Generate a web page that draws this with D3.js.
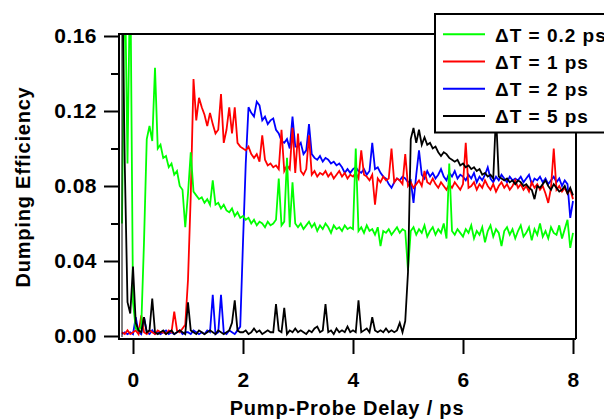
<!DOCTYPE html>
<html>
<head>
<meta charset="utf-8">
<script src="https://cdn.jsdelivr.net/npm/d3@7/dist/d3.min.js"></script>
<style>
  body { margin: 0; background: #fff; }
  text { font-family: "Liberation Sans", Arial, sans-serif; font-weight: bold; fill: #000; }
</style>
</head>
<body>
<div id="chart"></div>
<script>
// delay grid (ps), one sample every 0.05 ps from -0.2 to 8.0
var delayStart = -0.2, delayStep = 0.05, nPoints = 165;
var delay = d3.range(nPoints).map(function(i) { return +(delayStart + i * delayStep).toFixed(2); });

// dumping efficiency, in units of 0.001
var eff02 = [60, 200, 92, 200,
  18, 4, 3, 5, 50, 105, 112, 104, 143, 100, 102, 95, 96, 90, 92, 86, 88, 80, 78, 58,
  76, 98, 77, 75, 73, 74, 71, 73, 70, 83, 70, 71, 68, 70, 67, 66, 68, 64, 66, 63,
  64, 62, 63, 60, 62, 59, 61, 60, 58, 61, 59, 60, 62, 84, 59, 61, 95, 58, 82, 60,
  58, 60, 57, 59, 61, 58, 60, 56, 59, 57, 60, 58, 55, 59, 57, 58, 56, 59, 57, 58,
  57, 100, 56, 58, 55, 59, 56, 57, 54, 58, 48, 56, 55, 57, 54, 56, 58, 55, 57, 56,
  35, 56, 58, 54, 57, 55, 59, 53, 56, 58, 54, 57, 55, 60, 52, 92, 56, 54, 57, 55,
  53, 57, 55, 59, 52, 56, 54, 58, 50, 56, 59, 53, 57, 55, 48, 56, 58, 54, 57, 52,
  56, 59, 53, 55, 58, 51, 57, 54, 60, 53, 56, 52, 58, 55, 54, 59, 52, 57, 62, 47,
  55];

var eff1 = [2, 1, 3, 1,
  2, 3, 1, 11, 2, 1, 3, 2, 1, 3, 2, 2, 1, 3, 2, 13, 3, 2, 4, 6,
  30, 75, 137, 115, 127, 122, 118, 112, 119, 113, 108, 110, 129, 103, 110, 122, 108, 122, 103, 101,
  100, 99, 101, 97, 95, 97, 93, 107, 94, 91, 92, 90, 91, 89, 110, 88, 91, 89, 111, 87,
  108, 88, 86, 89, 107, 86, 88, 85, 87, 86, 88, 85, 87, 84, 86, 88, 85, 87, 84, 86,
  85, 87, 84, 99, 86, 85, 83, 86, 70, 84, 82, 85, 83, 84, 100, 82, 84, 83, 81, 97,
  80, 82, 79, 81, 83, 80, 88, 82, 81, 84, 81, 79, 82, 80, 78, 81, 79, 82, 80, 78,
  81, 103, 79, 80, 82, 78, 81, 79, 83, 80, 78, 81, 77, 80, 82, 79, 81, 78, 80, 83,
  79, 81, 78, 80, 77, 82, 79, 81, 78, 80, 76, 71, 79, 100, 78, 80, 77, 79, 76, 78,
  73];

var eff2 = [1, 2, 1, 2,
  1, 10, 2, 1, 10, 2, 1, 3, 1, 2, 1, 2, 3, 1, 2, 1, 2, 3, 1, 2,
  2, 1, 3, 2, 1, 2, 1, 3, 2, 22, 1, 2, 22, 2, 1, 3, 2, 1, 3, 5,
  50, 92, 122, 119, 117, 125, 123, 115, 117, 113, 115, 116, 110, 108, 104, 103, 105, 100, 117, 101,
  101, 103, 97, 99, 113, 97, 95, 94, 96, 93, 95, 94, 92, 93, 91, 92, 90, 87, 89, 87,
  89, 90, 88, 87, 89, 86, 88, 103, 89, 90, 87, 85, 84, 81, 79, 82, 84, 83, 85, 84,
  82, 83, 71, 86, 99, 86, 84, 88, 85, 87, 84, 86, 89, 85, 83, 87, 85, 88, 84, 86,
  85, 83, 86, 84, 87, 82, 85, 83, 86, 90, 84, 82, 85, 83, 86, 84, 82, 85, 83, 84,
  83, 85, 82, 84, 86, 81, 84, 83, 85, 82, 84, 81, 83, 85, 82, 84, 80, 83, 81, 63,
  72];

var eff5 = [200, 92, 18, 12,
  37, 7, 3, 2, 10, 2, 3, 20, 2, 1, 2, 3, 1, 2, 3, 1, 2, 3, 2, 1,
  18, 3, 2, 1, 3, 2, 1, 2, 3, 2, 1, 3, 2, 1, 2, 3, 7, 19, 3, 2,
  2, 3, 1, 2, 4, 2, 3, 1, 2, 3, 2, 2, 17, 3, 2, 15, 1, 3, 2, 4,
  2, 3, 2, 1, 3, 2, 4, 5, 2, 3, 17, 2, 3, 1, 4, 2, 3, 2, 5, 2,
  3, 2, 19, 2, 3, 4, 2, 10, 3, 2, 3, 2, 4, 2, 3, 2, 3, 7, 2, 8,
  34, 105, 111, 103, 110, 102, 106, 102, 103, 100, 101, 98, 96, 98, 97, 95, 94, 93, 94, 91,
  92, 90, 91, 89, 90, 88, 89, 86, 87, 85, 86, 84, 118, 85, 84, 83, 84, 82, 83, 81,
  83, 82, 80, 81, 79, 78, 73, 80, 79, 81, 83, 80, 78, 81, 79, 77, 78, 80, 76, 79,
  75];

var seriesNames = ["\u0394T = 0.2 ps", "\u0394T = 1 ps", "\u0394T = 2 ps", "\u0394T = 5 ps"];
var seriesColors = ["#00ff00", "#ff0000", "#0000ff", "#000000"];
var seriesValues = [eff02, eff1, eff2, eff5];

var yMajor = [0, 0.04, 0.08, 0.12, 0.16];
var yMinor = [0.02, 0.06, 0.10, 0.14];
var xMajor = [0, 2, 4, 6, 8];

(function() {
  var width = 604, height = 419;
  var plotLeft = 119, plotRight = 576, plotTop = 34, plotBottom = 339;

  var x = d3.scaleLinear().domain([0, 8]).range([133, 573]);
  var y = d3.scaleLinear().domain([0, 0.16]).range([336, 36]);

  var svg = d3.select("#chart").append("svg")
    .attr("width", width)
    .attr("height", height);

  svg.append("clipPath").attr("id", "plotclip")
    .append("rect")
    .attr("x", plotLeft + 1).attr("y", plotTop + 1)
    .attr("width", plotRight - plotLeft - 1).attr("height", plotBottom - plotTop - 2);

  var line = d3.line()
    .x(function(d) { return x(d[0]); })
    .y(function(d) { return y(d[1] / 1000); });

  // draw order: blue, red, green, black
  var order = [2, 1, 0, 3];
  var plot = svg.append("g").attr("clip-path", "url(#plotclip)");
  order.forEach(function(k) {
    var pts = delay.map(function(t, i) { return [t, seriesValues[k][i]]; });
    plot.append("path")
      .datum(pts)
      .attr("fill", "none")
      .attr("stroke", seriesColors[k])
      .attr("stroke-width", 1.8)
      .attr("d", line);
  });

  // frame
  svg.append("path")
    .attr("d", "M" + plotLeft + "," + plotTop + "H" + plotRight + "V" + plotBottom)
    .attr("fill", "none").attr("stroke", "#000").attr("stroke-width", 2);
  svg.append("line")
    .attr("x1", 122).attr("x2", 122).attr("y1", plotTop).attr("y2", plotBottom - 2)
    .attr("stroke", "#000").attr("stroke-width", 1);

  // y axis
  var yAxis = svg.append("g")
    .attr("transform", "translate(" + plotLeft + ",0)")
    .call(d3.axisLeft(y).tickValues(yMajor).tickFormat(d3.format(".2f")).tickSize(15).tickPadding(7));
  yAxis.select(".domain").remove();
  yAxis.selectAll("line").attr("stroke-width", 2);
  yAxis.selectAll("text")
    .style("font-size", "21px").style("letter-spacing", "0.5px")
    .style("font-family", "'Liberation Sans', Arial, sans-serif").style("font-weight", "bold");

  var yMinorAxis = svg.append("g")
    .attr("transform", "translate(" + plotLeft + ",0)")
    .call(d3.axisLeft(y).tickValues(yMinor).tickFormat("").tickSize(8));
  yMinorAxis.select(".domain").remove();
  yMinorAxis.selectAll("line").attr("stroke-width", 2);

  svg.append("line")
    .attr("x1", plotLeft).attr("x2", plotLeft).attr("y1", plotTop - 1).attr("y2", plotBottom + 1)
    .attr("stroke", "#000").attr("stroke-width", 2);

  // x axis
  var xAxis = svg.append("g")
    .attr("transform", "translate(0," + plotBottom + ")")
    .call(d3.axisBottom(x).tickValues(xMajor).tickFormat(d3.format("d")).tickSize(15).tickPadding(18));
  xAxis.select(".domain").remove();
  xAxis.selectAll("line").attr("stroke-width", 2);
  xAxis.selectAll("text")
    .style("font-size", "21px").style("letter-spacing", "0.5px")
    .style("font-family", "'Liberation Sans', Arial, sans-serif").style("font-weight", "bold");

  svg.append("line")
    .attr("x1", plotLeft - 1).attr("x2", plotRight).attr("y1", plotBottom).attr("y2", plotBottom)
    .attr("stroke", "#000").attr("stroke-width", 2);

  // axis titles
  svg.append("text")
    .attr("x", 347).attr("y", 415)
    .attr("text-anchor", "middle")
    .style("font-size", "20px").style("letter-spacing", "0.8px")
    .text("Pump-Probe Delay / ps");

  svg.append("text")
    .attr("transform", "translate(30,187) rotate(-90)")
    .attr("text-anchor", "middle")
    .style("font-size", "20px").style("letter-spacing", "0.8px")
    .text("Dumping Efficiency");

  // legend
  var legend = svg.append("g");
  legend.append("rect")
    .attr("x", 435).attr("y", 14)
    .attr("width", 200).attr("height", 118.5)
    .attr("fill", "#fff").attr("stroke", "#000").attr("stroke-width", 2);

  seriesNames.forEach(function(name, k) {
    var ly = 34.3 + k * 27.2;
    legend.append("line")
      .attr("x1", 443).attr("x2", 485).attr("y1", ly).attr("y2", ly)
      .attr("stroke", seriesColors[k]).attr("stroke-width", 2);
    legend.append("text")
      .attr("x", 495).attr("y", ly + 7.3)
      .style("font-size", "19px").style("letter-spacing", "1px")
      .text(name);
  });
})();
</script>
</body>
</html>
